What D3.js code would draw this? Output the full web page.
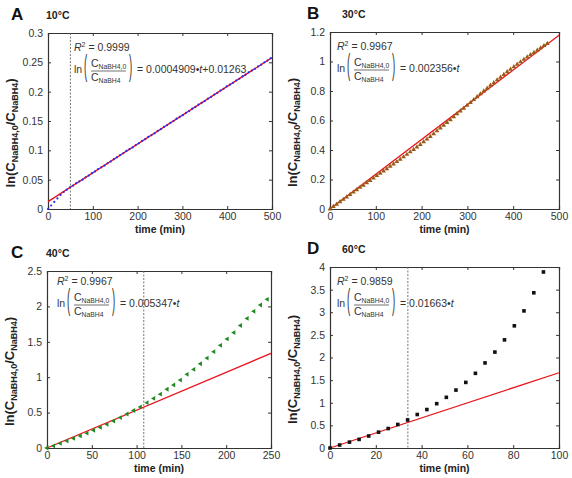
<!DOCTYPE html>
<html>
<head>
<meta charset="utf-8">
<script src="https://cdn.jsdelivr.net/npm/d3@7"></script>
<style>
  body { margin: 0; background: #fff; }
  svg { font-family: "Liberation Sans", Arial, sans-serif; }
  .axis path, .axis line { stroke: #333; }
  .axis text { fill: #333; font-size: 10.5px; }
</style>
</head>
<body>
<div id="chart"></div>
<script>
// ---- data ----
const tA = [0,7,14,21,28,35,42,49,56,63,70,77,84,91,98,105,112,119,126,133,140,147,154,161,168,175,182,189,196,203,210,217,224,231,238,245,252,259,266,273,280,287,294,301,308,315,322,329,336,343,350,357,364,371,378,385,392,399,406,413,420,427,434,441,448,455,462,469,476,483,490,497];
const yA = [0,0.006,0.012,0.018,0.024,0.029,0.033,0.037,0.040,0.044,0.047,0.050,0.054,0.057,0.061,0.064,0.068,0.071,0.074,0.078,0.081,0.085,0.088,0.092,0.095,0.099,0.102,0.105,0.109,0.112,0.116,0.119,0.123,0.126,0.129,0.133,0.136,0.140,0.143,0.147,0.150,0.154,0.157,0.160,0.164,0.167,0.171,0.174,0.178,0.181,0.184,0.188,0.191,0.195,0.198,0.202,0.205,0.209,0.212,0.215,0.219,0.222,0.226,0.229,0.233,0.236,0.239,0.243,0.246,0.250,0.253,0.257];

const tB = [0,7.3,14.6,21.9,29.2,36.5,43.8,51.1,58.4,65.7,73,80.3,87.6,94.9,102.2,109.5,116.8,124.1,131.4,138.7,146,153.3,160.6,167.9,175.2,182.5,189.8,197.1,204.4,211.7,219,226.3,233.6,240.9,248.2,255.5,262.8,270.1,277.4,284.7,292,299.3,306.6,313.9,321.2,328.5,335.8,343.1,350.4,357.7,365,372.3,379.6,386.9,394.2,401.5,408.8,416.1,423.4,430.7,438,445.3,452.6,459.9,467.2,474.5];
const yB = [0,0.016,0.032,0.049,0.065,0.081,0.098,0.114,0.130,0.146,0.161,0.177,0.193,0.209,0.226,0.241,0.257,0.272,0.289,0.305,0.321,0.337,0.353,0.370,0.387,0.403,0.420,0.437,0.455,0.473,0.491,0.510,0.529,0.549,0.567,0.586,0.605,0.625,0.645,0.664,0.683,0.702,0.721,0.741,0.761,0.780,0.799,0.818,0.838,0.856,0.875,0.893,0.911,0.930,0.947,0.964,0.981,0.997,1.014,1.030,1.046,1.061,1.076,1.092,1.107,1.122];

const tC = [0,7.45,14.9,22.35,29.8,37.25,44.7,52.15,59.6,67.05,74.5,81.95,89.4,96.85,104.3,111.75,119.2,126.65,134.1,141.55,149,156.45,163.9,171.35,178.8,186.25,193.7,201.15,208.6,216.05,223.5,230.95,238.4,245.85];
const yC = [0,0.03,0.065,0.10,0.135,0.17,0.21,0.25,0.29,0.335,0.38,0.43,0.48,0.53,0.58,0.64,0.70,0.76,0.83,0.89,0.96,1.04,1.11,1.19,1.27,1.36,1.45,1.54,1.63,1.73,1.83,1.93,2.02,2.10];

const tD = [0,4.2,8.5,12.7,16.9,21.2,25.4,29.6,33.9,38.1,42.3,46.6,50.8,55.0,59.3,63.5,67.7,72.0,76.2,80.5,84.7,89.0,93.2];
const yD = [0,0.066,0.13,0.19,0.265,0.35,0.43,0.52,0.62,0.74,0.85,0.98,1.12,1.28,1.45,1.65,1.88,2.12,2.39,2.70,3.03,3.43,3.89];

// linear fits  y = slope*t + intercept
const slopes = [0.0004909, 0.002356, 0.005347, 0.01663];
const intercepts = [0.01263, 0, 0, 0];
const r2Labels = ["0.9999", "0.9967", "0.9967", "0.9859"];
const eqLabels = ["0.0004909•", "0.002356•", "0.005347•", "0.01663•"];
const eqTails = ["+0.01263", "", "", ""];
const letters = ["A", "B", "C", "D"];
const temps = ["10°C", "30°C", "40°C", "60°C"];
const cutoffs = [50, null, 108, 34];

const xMax = [500, 500, 250, 100];
const yMax = [0.3, 1.2, 2.5, 4];
const xTicks = [[0,100,200,300,400,500],[0,100,200,300,400,500],[0,50,100,150,200,250],[0,20,40,60,80,100]];
const yTicks = [[0,0.05,0.1,0.15,0.2,0.25,0.3],[0,0.2,0.4,0.6,0.8,1,1.2],[0,0.5,1,1.5,2,2.5],[0,0.5,1,1.5,2,2.5,3,3.5,4]];

const W = 572, H = 478;
const svg = d3.select("#chart").append("svg").attr("width", W).attr("height", H);

// plot boxes [left, top, right, bottom]
const boxes = [[48,33,272,209],[330,32,559,209],[47,271,271,448],[330,267,559,448]];
const annot = [[74,51],[337,50],[57,285],[337,285]];

const panels = [
  { t: tA, y: yA, marker: "dot", color: "#2b2bf0" },
  { t: tB, y: yB, marker: "tri", color: "#9a5a16" },
  { t: tC, y: yC, marker: "ltri", color: "#1f8a1f" },
  { t: tD, y: yD, marker: "square", color: "#111" },
];

panels.forEach((p, i) => {
  const [x0, y0, x1, y1] = boxes[i];
  const x = d3.scaleLinear().domain([0, xMax[i]]).range([x0, x1]);
  const y = d3.scaleLinear().domain([0, yMax[i]]).range([y1, y0]);
  const g = svg.append("g");

  // axes, ticks inward on every side
  g.append("g").attr("class", "axis").attr("transform", `translate(0,${y1})`)
    .call(d3.axisBottom(x).tickValues(xTicks[i]).tickSize(-3).tickPadding(4).tickFormat(String));
  g.append("g").attr("class", "axis").attr("transform", `translate(0,${y0})`)
    .call(d3.axisTop(x).tickValues(xTicks[i]).tickSize(-3).tickFormat(""));
  g.append("g").attr("class", "axis").attr("transform", `translate(${x0},0)`)
    .call(d3.axisLeft(y).tickValues(yTicks[i]).tickSize(-3).tickPadding(5).tickFormat(String));
  g.append("g").attr("class", "axis").attr("transform", `translate(${x1},0)`)
    .call(d3.axisRight(y).tickValues(yTicks[i]).tickSize(-3).tickFormat(""));
  g.selectAll(".axis path").attr("stroke-width", 1.2);

  // cutoff line
  if (cutoffs[i] !== null) {
    g.append("line")
      .attr("x1", x(cutoffs[i])).attr("x2", x(cutoffs[i]))
      .attr("y1", y0).attr("y2", y1)
      .attr("stroke", "#666").attr("stroke-width", 0.9)
      .attr("stroke-dasharray", "2,1.5");
  }

  // fit line
  const fit = [0, xMax[i]].map(t => [t, slopes[i] * t + intercepts[i]]);
  g.append("path")
    .attr("d", d3.line().x(d => x(d[0])).y(d => y(d[1]))(fit))
    .attr("stroke", "#e8141c").attr("stroke-width", 1.3).attr("fill", "none");

  // data markers, drawn over the fit
  const pts = d3.zip(p.t, p.y);
  const mk = g.append("g").attr("fill", p.color);
  if (p.marker === "dot") {
    mk.selectAll("circle").data(pts).join("circle")
      .attr("cx", d => x(d[0])).attr("cy", d => y(d[1])).attr("r", 1.1);
  } else if (p.marker === "square") {
    mk.selectAll("rect").data(pts).join("rect")
      .attr("x", d => x(d[0]) - 1.8).attr("y", d => y(d[1]) - 1.8)
      .attr("width", 3.6).attr("height", 3.6);
  } else {
    const sym = d3.symbol().type(d3.symbolTriangle).size(p.marker === "tri" ? 10 : 10);
    mk.selectAll("path").data(pts).join("path")
      .attr("d", sym)
      .attr("transform", d => `translate(${x(d[0])},${y(d[1])}) rotate(${p.marker === "ltri" ? -90 : 0})`);
  }

  // axis titles
  g.append("text").attr("x", (x0 + x1) / 2).attr("y", y1 + 24)
    .attr("text-anchor", "middle").attr("font-weight", "bold").attr("font-size", 10.5)
    .attr("fill", "#222").text("time (min)");

  const yl = g.append("text")
    .attr("transform", `translate(${x0 - 33},${(y0 + y1) / 2 + 12}) rotate(-90)`)
    .attr("text-anchor", "middle").attr("font-weight", "bold").attr("font-size", 13).attr("fill", "#222");
  yl.append("tspan").text("ln(C");
  yl.append("tspan").attr("font-size", 9).attr("dy", 3).text("NaBH4,0");
  yl.append("tspan").attr("dy", -3).text("/C");
  yl.append("tspan").attr("font-size", 9).attr("dy", 3).text("NaBH4");
  yl.append("tspan").attr("dy", -3).text(")");

  // panel letter and temperature
  const lx = i % 2 === 0 ? 11 : 307;
  const ly = y0 - 13;
  g.append("text").attr("x", lx).attr("y", ly).attr("font-weight", "bold")
    .attr("font-size", 17).attr("fill", "#111").text(letters[i]);
  g.append("text").attr("x", lx + 35).attr("y", ly - 1).attr("font-weight", "bold")
    .attr("font-size", 10.5).attr("fill", "#222").text(temps[i]);

  // fit annotation
  const [ax, ay] = annot[i];
  const a = g.append("g").attr("fill", "#333").attr("font-size", 10.5);
  const r = a.append("text").attr("x", ax).attr("y", ay);
  r.append("tspan").attr("font-style", "italic").text("R");
  r.append("tspan").attr("font-size", 7).attr("dy", -4).text("2");
  r.append("tspan").attr("dy", 4).text(" = " + r2Labels[i]);
  a.append("text").attr("x", ax).attr("y", ay + 22).text("ln");
  a.append("text").attr("transform", `translate(${ax + 10},${ay + 25}) scale(0.8,2.4)`)
    .attr("font-size", 12).attr("font-weight", 300).text("(");
  const num = a.append("text").attr("x", ax + 17).attr("y", ay + 16);
  num.append("tspan").text("C");
  num.append("tspan").attr("font-size", 6.8).attr("dy", 2).text("NaBH4,0");
  const den = a.append("text").attr("x", ax + 17).attr("y", ay + 30);
  den.append("tspan").text("C");
  den.append("tspan").attr("font-size", 6.8).attr("dy", 2).text("NaBH4");
  a.append("line").attr("x1", ax + 17).attr("x2", ax + 52)
    .attr("y1", ay + 20).attr("y2", ay + 20).attr("stroke", "#333").attr("stroke-width", 0.7);
  a.append("text").attr("transform", `translate(${ax + 55},${ay + 25}) scale(0.8,2.4)`)
    .attr("font-size", 12).attr("font-weight", 300).text(")");
  const eq = a.append("text").attr("x", ax + 63).attr("y", ay + 22);
  eq.append("tspan").text("= " + eqLabels[i]);
  eq.append("tspan").attr("font-style", "italic").text("t");
  eq.append("tspan").text(eqTails[i]);
});
</script>
</body>
</html>
